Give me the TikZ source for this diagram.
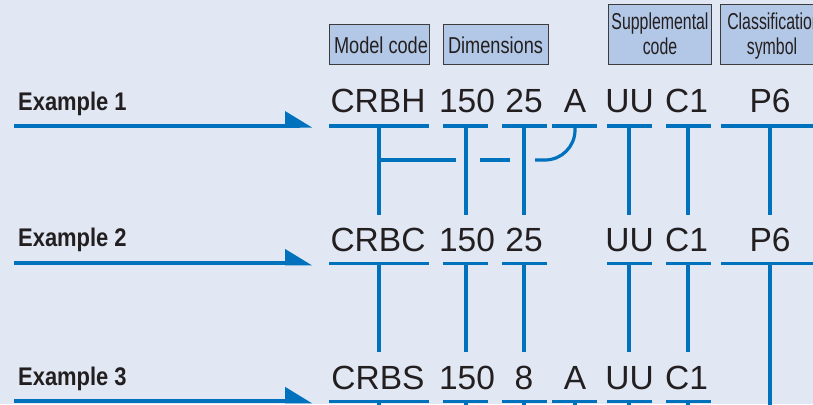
\documentclass[tikz,border=0pt]{standalone}
\usepackage{fontspec}
\setmainfont{Liberation Sans}
\newfontfamily\hdrfont[FakeStretch=0.69]{Liberation Sans}
\newfontfamily\hdrfontw[FakeStretch=0.79]{Liberation Sans}
\newfontfamily\exfont[FakeStretch=0.86]{Liberation Sans}
\definecolor{bg}{HTML}{E1E8F4}
\definecolor{lblue}{HTML}{0071BC}
\definecolor{hfill}{HTML}{B3C7E6}
\definecolor{hdraw}{HTML}{3C3C3C}
\definecolor{ink}{HTML}{231F20}
\begin{document}
\begin{tikzpicture}[x=1pt,y=-1pt,
  hdrbox/.style={draw=hdraw, line width=0.9pt, fill=hfill, inner sep=0pt, minimum height=40pt},
  hdrtxt/.style={font=\hdrfont\fontsize{23}{26}\selectfont, text=ink, inner sep=0pt, anchor=base},
  hdrtxtw/.style={font=\hdrfontw\fontsize{23}{26}\selectfont, text=ink, inner sep=0pt, anchor=base},
  codetxt/.style={font=\fontsize{33.5}{40}\selectfont, text=ink, inner sep=0pt, anchor=base},
  exlbl/.style={font=\exfont\bfseries\fontsize{25.5}{28}\selectfont, text=ink, inner sep=0pt, anchor=base west},
  ul/.style={draw=lblue, line width=3.8pt},
  vline/.style={draw=lblue, line width=3.2pt},
  arrline/.style={draw=lblue, line width=4pt}]
\fill[bg] (0,0) rectangle (813,404);
\useasboundingbox (0,0) rectangle (813,404);

% header boxes
\node[hdrbox, minimum width=100pt] (hmodel) at (379,44) {};
\node[hdrtxtw] (tmodel) at (381,54) {Model code};
\node[hdrbox, minimum width=105pt] (hdim) at (495.5,44) {};
\node[hdrtxtw] (tdim) at (495.5,54) {Dimensions};
\node[hdrbox, minimum width=103pt, minimum height=60pt] (hsup) at (659.5,34) {};
\node[hdrtxt] (tsup1) at (660,30) {Supplemental};
\node[hdrtxt] (tsup2) at (660,55) {code};
\node[hdrbox, minimum width=103pt, minimum height=60pt] (hcls) at (772,34) {};
\node[hdrtxt] (tcls1) at (774,30) {Classification};
\node[hdrtxt] (tcls2) at (772,55) {symbol};

% example labels and arrows
\foreach \i/\yb/\y in {1/110/125.5, 2/246.7/263.4, 3/385/401.3} {
  \node[exlbl] (ex\i) at (18,\yb) {Example \i};
  \coordinate (as\i) at (14,\y);
  \coordinate (ae\i) at (300,\y);
  \draw[arrline] (as\i) -- (ae\i);
  \fill[lblue] (285,\y-14.5) -- (285,\y+2) -- (312,\y+2) -- cycle;
}

% code texts
\node[codetxt] (r1c1) at (378,112) {CRBH};
\node[codetxt] (r1c2) at (467,112) {150};
\node[codetxt] (r1c3) at (524,112) {25};
\node[codetxt] (r1c4) at (575,112) {A};
\node[codetxt] (r1c5) at (629.5,112) {UU};
\node[codetxt] (r1c6) at (686.5,112) {C1};
\node[codetxt] (r1c7) at (770,112) {P6};

\node[codetxt] (r2c1) at (378,251) {CRBC};
\node[codetxt] (r2c2) at (467,251) {150};
\node[codetxt] (r2c3) at (524,251) {25};
\node[codetxt] (r2c5) at (629.5,251) {UU};
\node[codetxt] (r2c6) at (686.5,251) {C1};
\node[codetxt] (r2c7) at (770,251) {P6};

\node[codetxt] (r3c1) at (378,389) {CRBS};
\node[codetxt] (r3c2) at (467,389) {150};
\node[codetxt] (r3c3) at (524,389) {8};
\node[codetxt] (r3c4) at (575,389) {A};
\node[codetxt] (r3c5) at (629.5,389) {UU};
\node[codetxt] (r3c6) at (686.5,389) {C1};

% underlines
\foreach \r/\y in {1/126, 2/263.5, 3/401.5} {
  \foreach \c/\xa/\xb in {1/329/429, 2/443/488, 3/502/547, 5/607/652, 6/666/711} {
    \coordinate (ua\r\c) at (\xa,\y);
    \coordinate (ub\r\c) at (\xb,\y);
    \draw[ul] (ua\r\c) -- (ub\r\c);
  }
}
\foreach \r/\y in {1/126, 3/401.5} {
  \coordinate (ua\r4) at (552,\y);
  \coordinate (ub\r4) at (597,\y);
  \draw[ul] (ua\r4) -- (ub\r4);
}
\foreach \r/\y in {1/126, 2/263.5} {
  \coordinate (ua\r7) at (721,\y);
  \coordinate (ub\r7) at (830,\y);
  \draw[ul] (ua\r7) -- (ub\r7);
}

% vertical connectors
\foreach \c/\x in {1/379, 2/466, 3/524, 5/629, 6/688, 7/770} {
  \coordinate (v1top\c) at (\x,126);
  \coordinate (v1bot\c) at (\x,215);
  \draw[vline] (v1top\c) -- (v1bot\c);
}
\foreach \c/\x in {1/379, 2/466, 3/524, 5/629, 6/688} {
  \coordinate (v2top\c) at (\x,263.5);
  \coordinate (v2bot\c) at (\x,352);
  \draw[vline] (v2top\c) -- (v2bot\c);
  \coordinate (v3top\c) at (\x,401.5);
  \coordinate (v3bot\c) at (\x,412);
  \draw[vline] (v3top\c) -- (v3bot\c);
}
\coordinate (v2top7) at (770,263.5);
\coordinate (v2bot7) at (770,412);
\draw[vline] (v2top7) -- (v2bot7);
\coordinate (v3top4) at (575,401.5);
\coordinate (v3bot4) at (575,412);
\draw[vline] (v3top4) -- (v3bot4);

% row 1 cross connections
\coordinate (h1) at (379,160);
\coordinate (h2) at (456,160);
\coordinate (h3) at (480,160);
\coordinate (h4) at (510,160);
\coordinate (h5) at (535,160);
\coordinate (atop) at (575,126);
\draw[vline] (h1) -- (h2);
\draw[vline] (h3) -- (h4);
\draw[vline] (atop) -- (575,130) .. controls (575,146.6) and (561.6,160) .. (545,160) -- (h5);
\end{tikzpicture}
\end{document}
